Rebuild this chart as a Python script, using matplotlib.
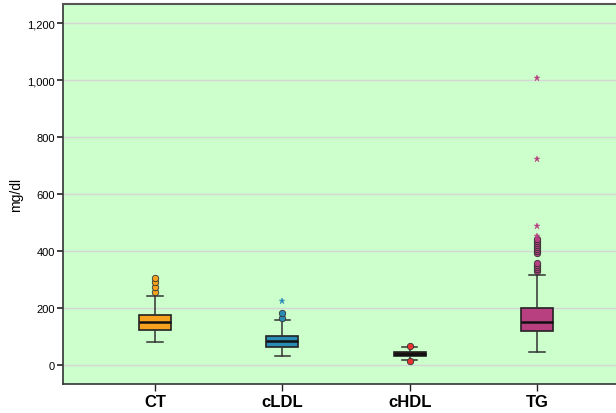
import numpy as np
import matplotlib.pyplot as plt
from matplotlib.ticker import FuncFormatter

# box statistics (mg/dl)
labels = ['CT', 'cLDL', 'cHDL', 'TG']
medians = [150, 83, 40, 152]
q1 = [124, 62, 33, 120]
q3 = [176, 103, 47, 200]
whislo = [80, 33, 19, 45]
whishi = [241, 159, 62, 317]
circles = [
    [255, 275, 291, 306],
    [165, 183],
    [13, 68],
    [330, 337, 344, 351, 358, 392, 399, 406, 413, 420, 427, 434, 441],
]
stars = [
    [],
    [225],
    [],
    [454, 489, 724, 1007],
]
colors = ['#F7A21E', '#2A8BB5', '#3A0A0A', '#B83F80']
flier_colors = ['#F7A21E', '#2A8BB5', '#E83232', '#B83F80']

fig = plt.figure(figsize=(6.16, 4.14), dpi=100)
ax = fig.add_axes([0.1023, 0.070, 0.8977, 0.918])
ax.set_facecolor('#CCFFCC')

positions = np.arange(1, len(labels) + 1)
stats = []
for i, lab in enumerate(labels):
    stats.append({'label': lab, 'med': medians[i], 'q1': q1[i], 'q3': q3[i],
                  'whislo': whislo[i], 'whishi': whishi[i], 'fliers': []})

bp = ax.bxp(stats, positions=positions, widths=0.25, patch_artist=True,
            showfliers=False,
            boxprops=dict(edgecolor='#222222', linewidth=1.2),
            medianprops=dict(color='#111111', linewidth=1.8),
            whiskerprops=dict(color='#333333', linewidth=1.1),
            capprops=dict(color='#333333', linewidth=1.1),
            capwidths=0.12)
for patch, c in zip(bp['boxes'], colors):
    patch.set_facecolor(c)

for i, p in enumerate(positions):
    if circles[i]:
        ax.plot([p] * len(circles[i]), circles[i], 'o', ms=4.6,
                mfc=flier_colors[i], mec='#333333', mew=0.6, zorder=3)
    if stars[i]:
        ax.plot([p] * len(stars[i]), stars[i], '*', ms=5,
                mfc=flier_colors[i], mec=flier_colors[i], mew=0.3, zorder=3)

ax.set_xlim(0.277, 4.62)
ax.set_ylim(-67, 1268)
ax.set_yticks(np.arange(0, 1201, 200))
ax.yaxis.set_major_formatter(FuncFormatter(lambda v, _: f'{int(v):,}'))
ax.grid(axis='y', color='#D6D6D6', linewidth=1.0)
ax.set_axisbelow(True)

ax.set_xticks(positions)
ax.set_xticklabels(labels, fontsize=12, fontweight='bold', family='Liberation Sans')
ax.tick_params(axis='y', labelsize=8, length=4, width=1.2, color='#222222', pad=2)
ax.tick_params(axis='x', length=5, width=1.0, color='#222222', pad=2)
for lab in ax.get_yticklabels():
    lab.set_family('Liberation Sans')
ax.set_ylabel('mg/dl', fontsize=10, family='Liberation Sans', labelpad=3)

for s in ['left', 'bottom']:
    ax.spines[s].set_color('#333333')
    ax.spines[s].set_linewidth(1.2)
ax.spines['top'].set_color('#555555')
ax.spines['top'].set_linewidth(1.5)
ax.spines['right'].set_visible(False)

fig.savefig('out.png', dpi=100)
